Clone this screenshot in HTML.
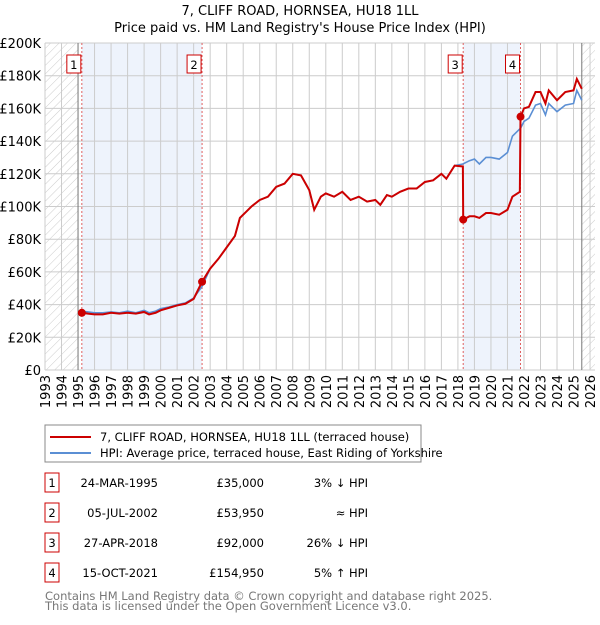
<!DOCTYPE html>
<html><head><meta charset="utf-8">
<style>
body{margin:0;background:#fff;font-family:"Liberation Sans","DejaVu Sans",sans-serif;}
svg text{font-family:"DejaVu Sans","Liberation Sans",sans-serif;}
</style></head>
<body>
<svg id="c" width="600" height="620" xmlns="http://www.w3.org/2000/svg">
<defs>
<pattern id="hatch" width="6" height="6" patternUnits="userSpaceOnUse" patternTransform="rotate(45)">
<line x1="0" y1="0" x2="0" y2="6" stroke="#ccc" stroke-width="1"/></pattern>
</defs>
<text x="300" y="15" text-anchor="middle" font-size="13">7, CLIFF ROAD, HORNSEA, HU18 1LL</text>
<text x="300" y="32" text-anchor="middle" font-size="13">Price paid vs. HM Land Registry's House Price Index (HPI)</text>
<g id="plot"></g>
<rect x="45" y="425" width="376" height="37" fill="#fff" stroke="#888"/>
<line x1="50" y1="437" x2="91" y2="437" stroke="#cc0000" stroke-width="2"/>
<text x="100" y="441" font-size="11.5">7, CLIFF ROAD, HORNSEA, HU18 1LL (terraced house)</text>
<line x1="50" y1="453" x2="91" y2="453" stroke="#5b8fd4" stroke-width="2"/>
<text x="100" y="457" font-size="11.5">HPI: Average price, terraced house, East Riding of Yorkshire</text>
<g id="table" font-size="11.5"></g>
<text x="45" y="600" font-size="11.5" fill="#777">Contains HM Land Registry data © Crown copyright and database right 2025.</text>
<text x="45" y="610" font-size="11.5" fill="#777">This data is licensed under the Open Government Licence v3.0.</text>
</svg>
<script>
const hpiYears=[1995.2,1995.6,1996,1996.5,1997,1997.5,1998,1998.5,1999,1999.3,1999.7,2000,2000.5,2001,2001.5,2002,2002.5,2003,2003.5,2004,2004.5,2004.8,2005.2,2005.5,2006,2006.5,2007,2007.5,2008,2008.5,2009,2009.3,2009.7,2010,2010.5,2011,2011.5,2012,2012.5,2013,2013.3,2013.7,2014,2014.5,2015,2015.5,2016,2016.5,2017,2017.3,2017.8,2018.3,2018.7,2019,2019.3,2019.7,2020,2020.5,2021,2021.3,2021.8,2022,2022.3,2022.7,2023,2023.3,2023.5,2024,2024.5,2025,2025.2,2025.5];
const hpiValues=[36,35.5,35,35,35.5,35,36,35,36.5,35,36,37.5,38.5,40,41,44,51,62,68,75,82,93,97,100,104,106,112,114,120,119,110,98,106,108,106,109,104,106,103,104,101,107,106,109,111,111,115,116,120,117,125,126,128,129,126,130,130,129,133,143,148,152,154,162,163,156,163,158,162,163,171,165];
const redYears=[1995.23,1995.6,1996,1996.5,1997,1997.5,1998,1998.5,1999,1999.3,1999.7,2000,2000.5,2001,2001.5,2002,2002.51,2003,2003.5,2004,2004.5,2004.8,2005.2,2005.5,2006,2006.5,2007,2007.5,2008,2008.5,2009,2009.3,2009.7,2010,2010.5,2011,2011.5,2012,2012.5,2013,2013.3,2013.7,2014,2014.5,2015,2015.5,2016,2016.5,2017,2017.3,2017.8,2018.3,2018.32,2018.7,2019,2019.3,2019.7,2020,2020.5,2021,2021.3,2021.75,2021.79,2022,2022.3,2022.7,2023,2023.3,2023.5,2024,2024.5,2025,2025.2,2025.5];
const redValues=[35,34.5,34,34,35,34.5,35,34.5,35.5,34,35,36.5,38,39.5,40.5,43.5,53.95,62,68,75,82,93,97,100,104,106,112,114,120,119,110,98,106,108,106,109,104,106,103,104,101,107,106,109,111,111,115,116,120,117,125,124.5,92,94,94,93,96,96,95,98,106,109,154.95,160,161,170,170,163,171,165,170,171,178,172];
const saleYears=[1995.23,2002.51,2018.32,2021.79];
const salePrices=[35,53.95,92,154.95];
const saleLabels=["1","2","3","4"];
const saleDates=["24-MAR-1995","05-JUL-2002","27-APR-2018","15-OCT-2021"];
const salePriceText=["£35,000","£53,950","£92,000","£154,950"];
const saleHpiText=["3% ↓ HPI","≈ HPI","26% ↓ HPI","5% ↑ HPI"];
const yTicks=[0,20,40,60,80,100,120,140,160,180,200];
const xTicks=[];for(let y=1993;y<=2026;y++)xTicks.push(y);

const L=45,R=595,T=43,B=370;
const x=v=>L+(v-1993)*(R-L)/33.3;
const y=v=>B-v*(B-T)/200;
const NS="http://www.w3.org/2000/svg";
const plot=document.getElementById('plot');
function mk(tag,attrs,parent){const e=document.createElementNS(NS,tag);for(const k in attrs)e.setAttribute(k,attrs[k]);(parent||plot).appendChild(e);return e;}

for(let i=0;i<4;i+=2){
 const r=mk('rect',{x:x(saleYears[i]),y:T,width:x(saleYears[i+1])-x(saleYears[i]),height:B-T,fill:'#eef3fc'});
 
 
}
const h1=mk('rect',{x:L,y:T,width:x(1995)-L,height:B-T,fill:'url(#hatch)'});


const h2=mk('rect',{x:x(2025.5),y:T,width:R-x(2025.5),height:B-T,fill:'url(#hatch)'});


xTicks.forEach(t=>{const g=mk('line',{x1:x(t),y1:T,x2:x(t),y2:B,stroke:'#ccc','stroke-width':1});
 
 
 const tx=mk('text',{x:0,y:0,'font-size':13,'text-anchor':'end',transform:`translate(${x(t)+5},${B+5}) rotate(-90)`});tx.textContent=t;
 
 });
yTicks.forEach(t=>{const g=mk('line',{x1:L,y1:y(t),x2:R,y2:y(t),stroke:'#ccc','stroke-width':1});
 
 
 const tx=mk('text',{x:L-4,y:y(t)+5,'font-size':13,'text-anchor':'end'});tx.textContent=t===0?'£0':'£'+t+'K';
 
 });
const v1=mk('line',{x1:x(1995),y1:T,x2:x(1995),y2:B,stroke:'#777'});

const v2=mk('line',{x1:x(2025.5),y1:T,x2:x(2025.5),y2:B,stroke:'#777'});

saleYears.forEach((s,i)=>{const l=mk('line',{x1:x(s),y1:T,x2:x(s),y2:B,stroke:'#e06060','stroke-dasharray':'2,2','stroke-width':1});
 
 });
const hp=mk('polyline',{points:hpiYears.map((t,i)=>x(t)+','+y(hpiValues[i])).join(' '),fill:'none',stroke:'#5b8fd4','stroke-width':1.6});


const rp=mk('polyline',{points:redYears.map((t,i)=>x(t)+','+y(redValues[i])).join(' '),fill:'none',stroke:'#cc0000','stroke-width':2});


saleYears.forEach((s,i)=>{const c=mk('circle',{cx:x(s),cy:y(salePrices[i]),r:4,fill:'#cc0000'});
 
 
 const b=mk('rect',{x:x(s)-15,y:55,width:14,height:18,fill:'#fff',stroke:'#cc0000'});
 
 
 const t=mk('text',{x:x(s)-8,y:69,'font-size':11.5,'text-anchor':'middle'});t.textContent=saleLabels[i];
 
 });
const tb=document.getElementById('table');
saleLabels.forEach((lab,i)=>{const yy=487+i*30;
 const b=mk('rect',{x:45,y:yy-14,width:14,height:19,fill:'#fff',stroke:'#cc0000'},tb);
 
 const a=mk('text',{x:52,y:yy,'text-anchor':'middle'},tb);a.textContent=lab;
 
 const d=mk('text',{x:158,y:yy,'text-anchor':'end'},tb);d.textContent=saleDates[i];
 
 const p=mk('text',{x:264,y:yy,'text-anchor':'end'},tb);p.textContent=salePriceText[i];
 
 const h=mk('text',{x:368,y:yy,'text-anchor':'end'},tb);h.textContent=saleHpiText[i];
 });
</script>
</body></html>
